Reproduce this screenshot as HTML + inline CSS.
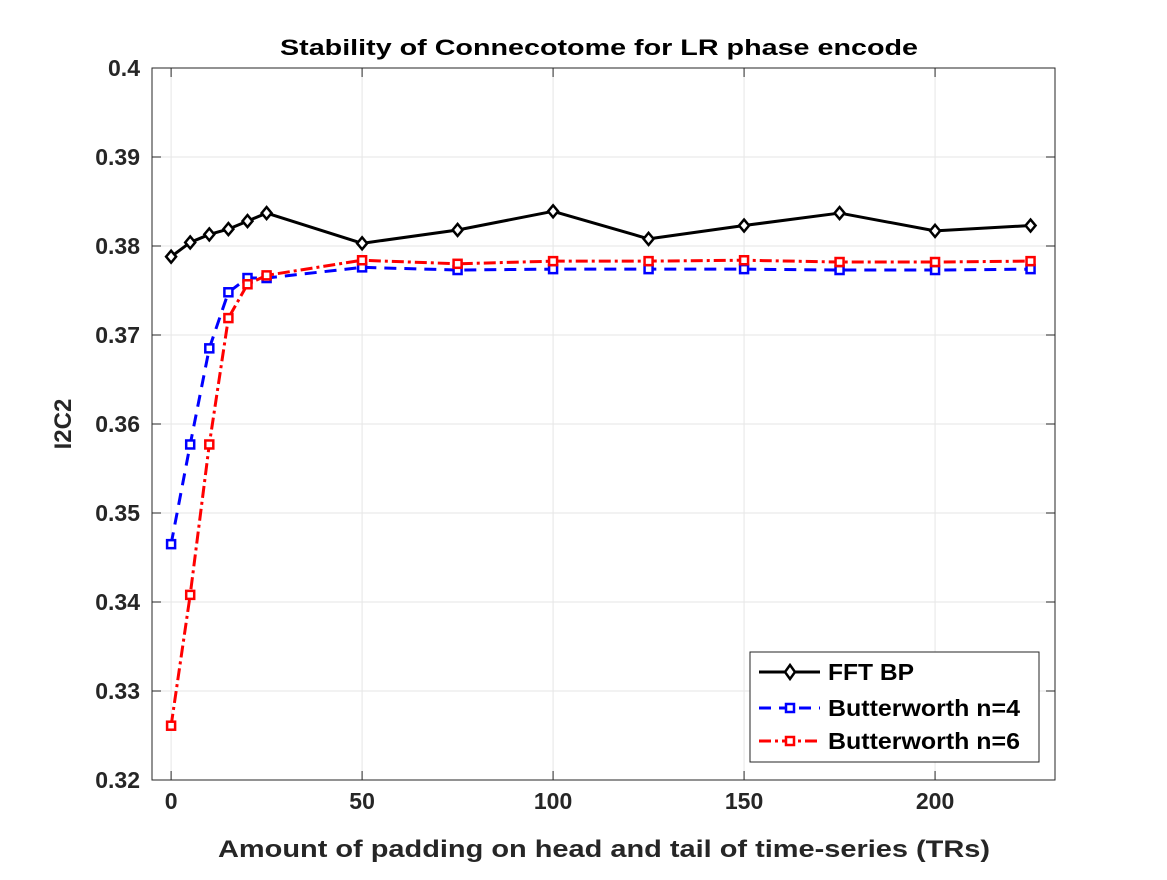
<!DOCTYPE html>
<html><head><meta charset="utf-8"><style>
body{margin:0;background:#fff;}
svg text{font-family:"Liberation Sans",sans-serif;font-weight:bold;}
</style></head><body>
<svg id="c" width="1167" height="875" viewBox="0 0 1167 875" xmlns="http://www.w3.org/2000/svg">
<rect width="1167" height="875" fill="#fff"/>
<g id="grid"></g>
<g id="axes"></g>
<g id="series"></g>
<text x="599" y="55" font-size="22" textLength="638" lengthAdjust="spacingAndGlyphs" text-anchor="middle" fill="#000">Stability of Connecotome for LR phase encode</text>
<text x="604" y="857" font-size="24" textLength="772" lengthAdjust="spacingAndGlyphs" text-anchor="middle" fill="#262626">Amount of padding on head and tail of time-series (TRs)</text>
<text x="71" y="424" font-size="24" text-anchor="middle" fill="#262626" transform="rotate(-90 71 424)">I2C2</text>
<g>
<rect x="750" y="652" width="289" height="110" fill="#fff" stroke="#262626" stroke-width="1"/>
<g>
<line x1="759" y1="672" x2="820" y2="672" stroke="#000" stroke-width="3"/>
<path d="M790 665 L795 672 L790 679 L785 672 Z" fill="#fff" stroke="#000" stroke-width="2.5"/>
<text x="828" y="680" font-size="23" textLength="86" lengthAdjust="spacingAndGlyphs" fill="#000">FFT BP</text></g>
<g>
<line x1="759" y1="708" x2="820" y2="708" stroke="#0000ff" stroke-width="3" stroke-dasharray="12,8"/>
<rect x="786" y="704" width="8" height="8" fill="#fff" stroke="#0000ff" stroke-width="2.5"/>
<text x="828" y="716" font-size="23" textLength="192" lengthAdjust="spacingAndGlyphs" fill="#000">Butterworth n=4</text></g>
<g>
<line x1="759" y1="741" x2="820" y2="741" stroke="#ff0000" stroke-width="3" stroke-dasharray="12,4,3,4"/>
<rect x="786" y="737" width="8" height="8" fill="#fff" stroke="#ff0000" stroke-width="2.5"/>
<text x="828" y="749" font-size="23" textLength="192" lengthAdjust="spacingAndGlyphs" fill="#000">Butterworth n=6</text></g>
</g>
</svg>
<script>
const xs=[0,5,10,15,20,25,50,75,100,125,150,175,200,225];
const fft=[0.3788,0.3804,0.3813,0.3819,0.3828,0.3837,0.3803,0.3818,0.3839,0.3808,0.3823,0.3837,0.3817,0.3823];
const bw4=[0.3465,0.3577,0.3685,0.3748,0.3764,0.3764,0.3776,0.3773,0.3774,0.3774,0.3774,0.3773,0.3773,0.3774];
const bw6=[0.3261,0.3408,0.3577,0.3719,0.3757,0.3767,0.3784,0.3780,0.3783,0.3783,0.3784,0.3782,0.3782,0.3783];
const xTicks=[0,50,100,150,200];
const yTicks=[0.32,0.33,0.34,0.35,0.36,0.37,0.38,0.39,0.4];
const yLabels=["0.32","0.33","0.34","0.35","0.36","0.37","0.38","0.39","0.4"];
const L=152,R=1055,T=68,B=780,xmin=-5,xmax=231.4,ymin=0.32,ymax=0.4;
const X=v=>L+(v-xmin)/(xmax-xmin)*(R-L);
const Y=v=>B-(v-ymin)/(ymax-ymin)*(B-T);
const NS="http://www.w3.org/2000/svg";
function mk(t,a,p){const e=document.createElementNS(NS,t);for(const k in a)e.setAttribute(k,a[k]);p.appendChild(e);return e;}
const grid=document.getElementById('grid'),axes=document.getElementById('axes'),ser=document.getElementById('series');
xTicks.forEach(v=>{const x=X(v);
const g=mk('line',{x1:x,x2:x,y1:T,y2:B,stroke:'#e6e6e6','stroke-width':1},grid);

mk('line',{x1:x,x2:x,y1:B,y2:B-9,stroke:'#262626','stroke-width':1},axes);
mk('line',{x1:x,x2:x,y1:T,y2:T+9,stroke:'#262626','stroke-width':1},axes);
const t=mk('text',{x:x,y:B+29,'font-size':23,'text-anchor':'middle',fill:'#262626'},axes);t.textContent=v;
});
yTicks.forEach((v,i)=>{const y=Y(v);
const g=mk('line',{x1:L,x2:R,y1:y,y2:y,stroke:'#e6e6e6','stroke-width':1},grid);

mk('line',{x1:L,x2:L+9,y1:y,y2:y,stroke:'#262626','stroke-width':1},axes);
mk('line',{x1:R,x2:R-9,y1:y,y2:y,stroke:'#262626','stroke-width':1},axes);
const t=mk('text',{x:L-12,y:y+8,'font-size':23,'text-anchor':'end',fill:'#262626'},axes);t.textContent=yLabels[i];
});
const fr=mk('rect',{x:L,y:T,width:R-L,height:B-T,fill:'none',stroke:'#262626','stroke-width':1},axes);

function series(vals,color,dash,marker,name){
const g=mk('g',{},ser);
const pts=xs.map((x,i)=>X(x)+','+Y(vals[i])).join(' ');
const a={points:pts,fill:'none',stroke:color,'stroke-width':3,'stroke-linejoin':'round'};if(dash)a['stroke-dasharray']=dash;
mk('polyline',a,g);
xs.forEach((x,i)=>{const cx=X(x),cy=Y(vals[i]);let m;
if(marker==='d')m=mk('path',{d:`M${cx} ${cy-6}L${cx+5} ${cy}L${cx} ${cy+6}L${cx-5} ${cy}Z`,fill:'#fff',stroke:color,'stroke-width':2.5},g);
else m=mk('rect',{x:cx-4,y:cy-4,width:8,height:8,fill:'#fff',stroke:color,'stroke-width':2.5},g);
});}
series(bw4,'#0000ff','12,8','s','series-butterworth-4');
series(bw6,'#ff0000','12,4,3,4','s','series-butterworth-6');
series(fft,'#000','', 'd','series-fft-bp');
</script>
</body></html>
